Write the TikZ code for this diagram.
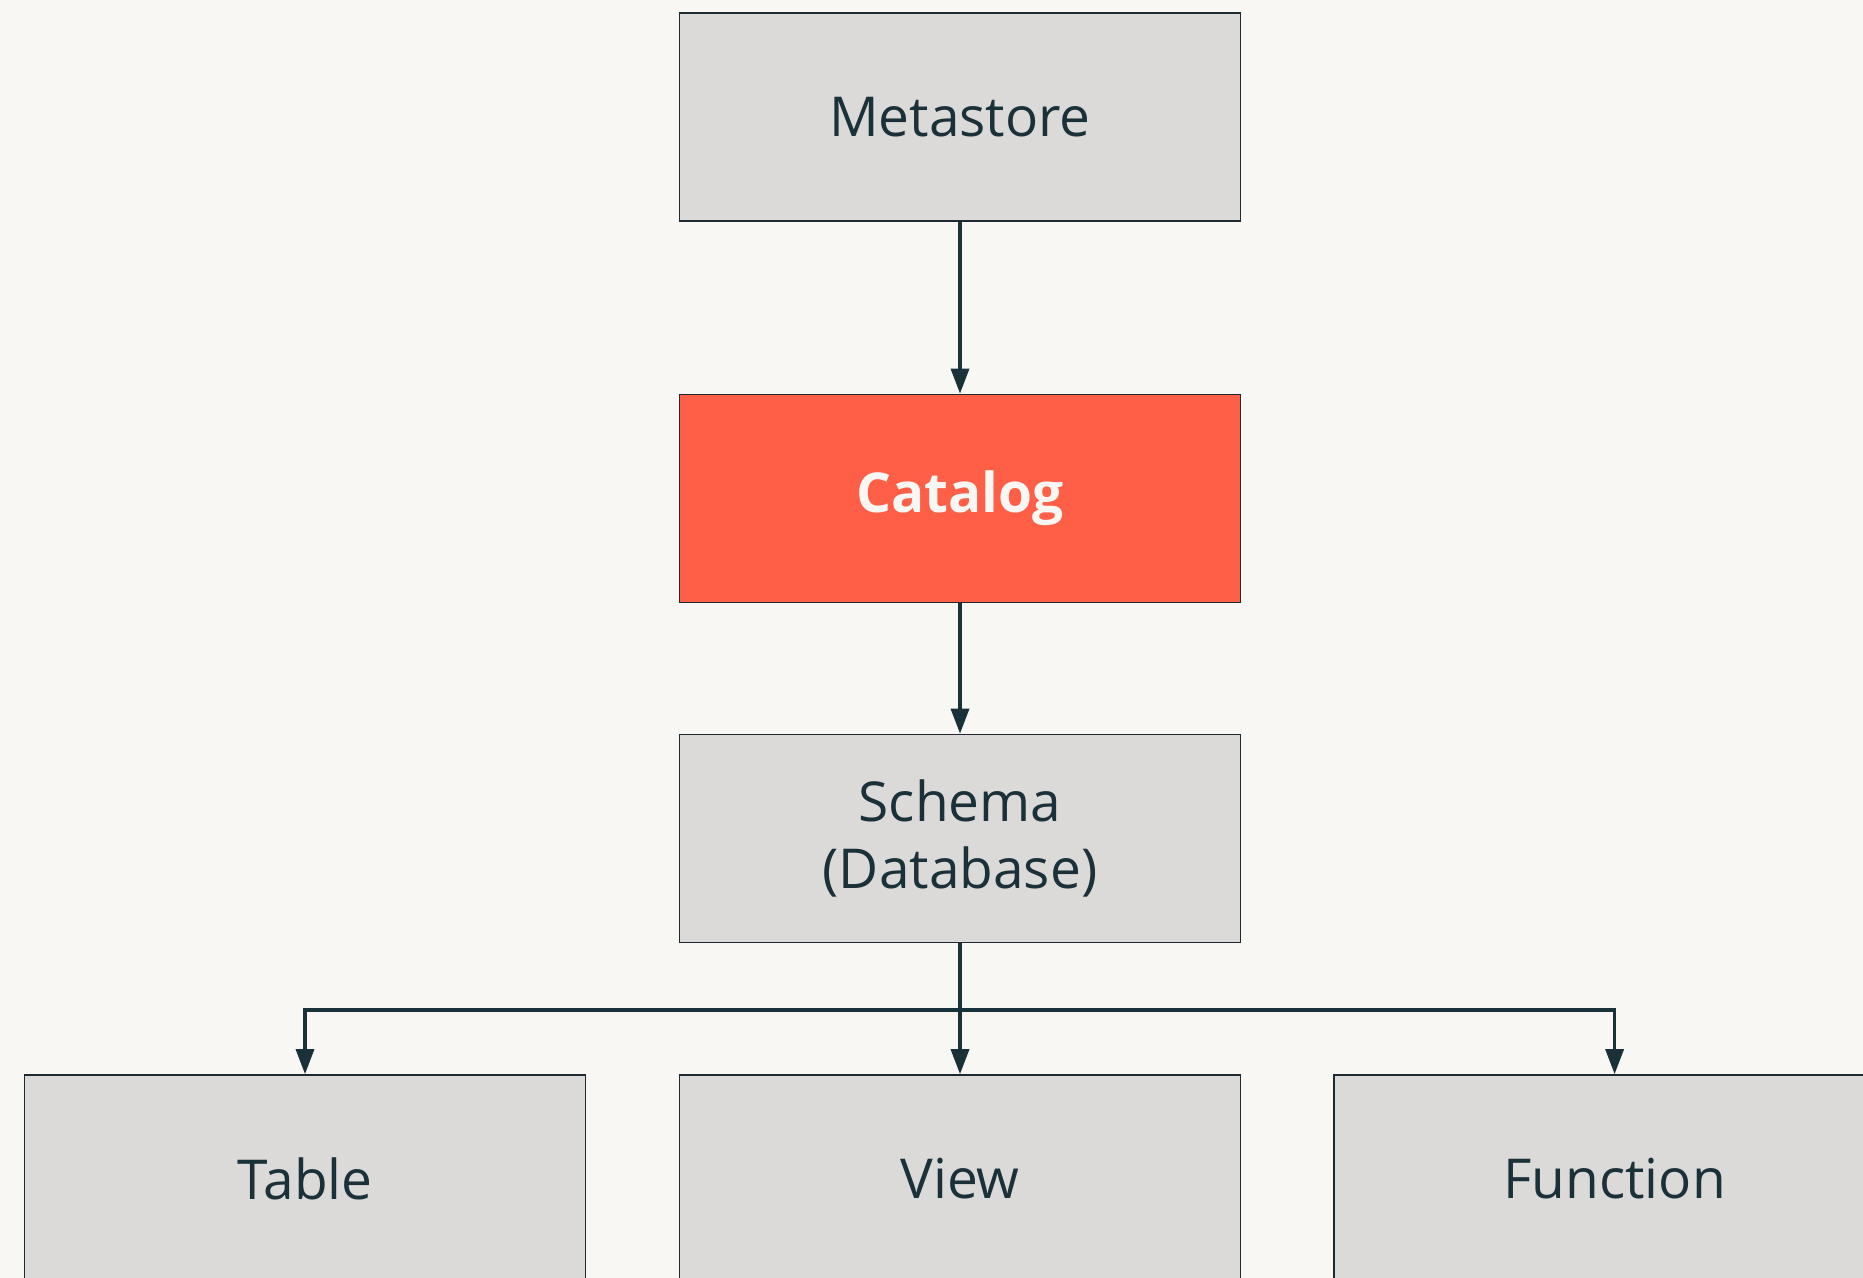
\documentclass[tikz,border=0pt]{standalone}
\usepackage{fontspec}
\setmainfont{Open Sans}[Ligatures=NoCommon]
\usetikzlibrary{arrows.meta}
\definecolor{bgc}{HTML}{F8F7F4}
\definecolor{boxc}{HTML}{DCDAD8}
\definecolor{navy}{HTML}{1B3139}
\definecolor{redc}{HTML}{FF5F46}
\definecolor{edgec}{HTML}{1E2A30}
\tikzset{
  box/.style={draw=edgec, line width=0.85pt, fill=boxc, minimum width=280.5pt, minimum height=104pt,
    inner sep=0pt, text=navy, font=\fontsize{27.5}{33.5}\selectfont, align=center},
  redbox/.style={box, fill=redc, text=bgc, font=\fontsize{27.5}{33.5}\selectfont\bfseries},
  conn/.style={draw=navy, line width=1.7pt, -{Triangle[length=12.5pt,width=9pt]}}
}
\begin{document}
\begin{tikzpicture}[x=0.5pt,y=-0.5pt]
\useasboundingbox (0,0) rectangle (1863,1278);
\clip (0,0) rectangle (1863,1278);
\fill[bgc] (0,0) rectangle (1863,1278);
\node[box] (meta) at (960,117) {Metastore};
\node[redbox] (cat) at (960,498.5) {Catalog};
\node[box] (schema) at (960,838.5) {Schema\\(Database)};
\node[box] (table) at (305,1179) {Table};
\node[box] (view) at (960,1179) {View};
\node[box] (func) at (1614.6,1179) {Function};
\coordinate (j) at (960,1010);
\draw[conn] (meta.south) -- (cat.north);
\draw[conn] (cat.south) -- (schema.north);
\draw[conn] (schema.south) -- (view.north);
\draw[conn] (j) -| (table.north);
\draw[conn] (j) -| (func.north);
\end{tikzpicture}
\end{document}
